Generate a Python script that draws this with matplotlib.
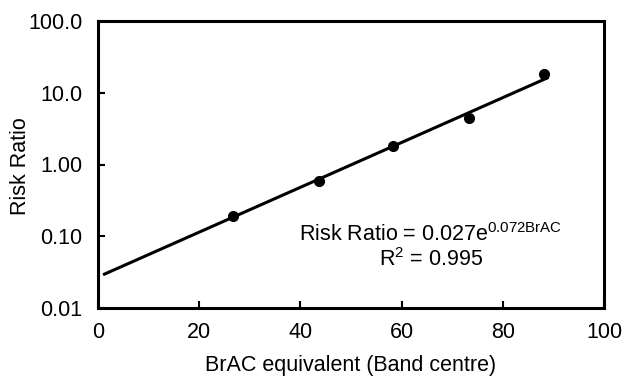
import matplotlib
matplotlib.use("Agg")
import matplotlib.pyplot as plt
import numpy as np

plt.rcParams['font.family'] = ['Liberation Sans', 'DejaVu Sans']

# data
brac = [26.7, 43.7, 58.3, 73.3, 88.1]
risk_ratio = [0.19, 0.59, 1.8, 4.4, 18.5]
fit_a = 0.027
fit_b = 0.072
fit_x = [1.0, 89.0]
x_ticks = [0, 20, 40, 60, 80, 100]
y_ticks = [0.01, 0.1, 1, 10, 100]
y_tick_labels = ["0.01", "0.10", "1.00", "10.0", "100.0"]

fit_y = [fit_a * np.exp(fit_b * x) for x in fit_x]

FS = 15.5
fig = plt.figure(figsize=(6.28, 3.76), dpi=100)
ax = fig.add_axes([0.156, 0.181, 0.806, 0.763])
ax.set_yscale('log')
ax.plot(fit_x, fit_y, color='black', lw=2.2, solid_capstyle='butt')
ax.plot(brac, risk_ratio, 'o', color='black', markersize=7)

ax.set_xlim(0, 100)
ax.set_ylim(0.01, 100)
ax.set_xticks(x_ticks)
ax.set_xticklabels([str(t) for t in x_ticks])
ax.set_yticks(y_ticks)
ax.set_yticklabels(y_tick_labels)
ax.minorticks_off()
ax.tick_params(direction='in', length=5, width=1.5, labelsize=FS)
ax.tick_params(axis='y', pad=11)
ax.tick_params(axis='x', pad=10)
for s in ax.spines.values():
    s.set_linewidth(2.2)

ax.set_xlabel('BrAC equivalent (Band centre)', fontsize=FS, labelpad=9)
ax.set_ylabel('Risk Ratio', fontsize=FS)
ax.yaxis.set_label_coords(-0.132, 0.495)

ax.text(65.8, 0.104, r'Risk Ratio = 0.027e$^{\mathregular{0.072BrAC}}$', fontsize=FS,
        ha='center', va='center')
ax.text(65.8, 0.047, r'R$^{\mathregular{2}}$ = 0.995', fontsize=FS, ha='center', va='center')

fig.savefig('out.png', dpi=100)
